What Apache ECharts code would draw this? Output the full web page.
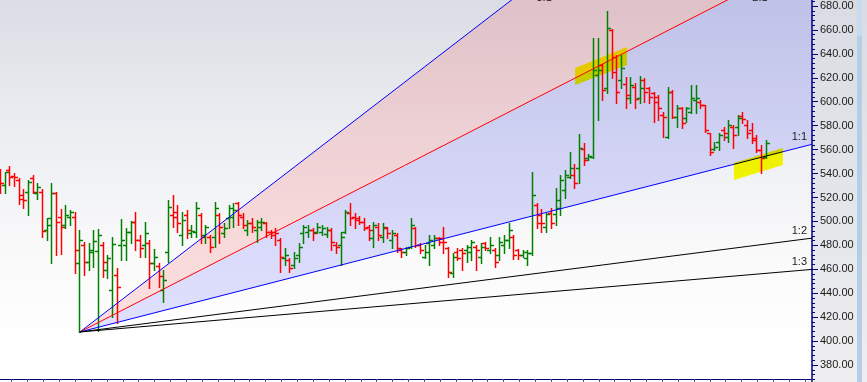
<!DOCTYPE html>
<html><head><meta charset="utf-8">
<script src="https://cdn.jsdelivr.net/npm/echarts@6/dist/echarts.min.js"></script>
<style>html,body{margin:0;padding:0;background:#fff;}#c{width:867px;height:382px;}</style>
</head><body><div id="c"></div>
<script>
const opens = [541.3,530.4,543.0,537.9,534.6,522.1,524.6,536.3,523.7,524.6,
492.8,502.8,523.7,503.7,497.0,503.7,503.7,465.2,480.3,466.1,
476.1,475.3,480.3,459.4,442.7,455.2,480.3,480.3,491.1,499.5,
484.5,480.3,481.9,465.2,462.7,442.7,474.4,505.4,507.9,488.6,
505.4,490.3,491.1,505.4,488.6,487.0,487.0,505.4,490.3,502.8,
503.7,515.4,503.7,492.8,498.7,492.8,495.3,498.7,491.1,491.1,
484.5,469.4,467.7,463.6,471.9,490.3,491.1,492.8,491.1,491.1,
489.5,492.8,480.3,480.3,491.1,507.0,503.7,502.8,499.5,495.3,
486.1,495.3,487.0,494.5,484.5,488.6,476.1,474.4,478.6,494.5,
480.3,470.3,481.9,480.3,486.1,486.1,477.8,456.9,474.4,476.1,
476.1,474.4,478.6,470.3,481.9,476.1,476.1,471.9,480.3,484.5,
487.0,476.1,471.9,469.4,473.6,513.7,505.4,495.3,507.0,506.2,
511.2,526.2,537.1,538.8,544.6,560.5,553.0,553.8,622.3,630.7,
611.5,659.9,637.4,618.2,614.8,603.1,612.3,603.1,618.2,611.5,
607.3,603.9,588.9,570.5,608.1,587.2,594.8,586.4,591.4,601.4,
599.8,597.3,573.9,560.5,566.3,576.4,570.5,578.9,578.9,588.1,
580.5,576.4,569.7,559.7,553.8];
const highs = [543.8,541.3,546.3,540.4,536.3,527.1,534.6,538.8,532.1,527.1,
502.8,532.1,524.6,510.4,513.7,509.5,507.9,492.8,482.8,481.9,
492.8,493.6,482.8,471.9,487.0,461.1,502.0,494.5,500.3,507.9,
488.6,499.5,484.5,476.9,465.2,459.4,517.9,522.1,513.7,507.9,
509.5,497.0,516.2,507.0,497.0,488.6,516.2,507.0,498.7,513.7,
515.4,516.2,507.0,501.2,502.8,501.2,502.8,499.5,492.8,494.5,
486.1,477.8,469.4,474.4,481.9,497.0,497.0,494.5,498.7,497.0,
495.3,494.5,482.8,491.1,509.5,515.4,507.0,504.5,502.8,497.0,
499.5,498.7,498.7,495.3,492.8,490.3,477.8,478.6,502.8,495.3,
481.9,480.3,488.6,488.6,487.0,495.3,478.6,473.6,477.8,477.8,
480.3,484.5,480.3,481.9,482.8,487.0,477.8,487.0,488.6,498.7,
488.6,476.9,476.1,476.1,541.3,515.4,510.4,507.0,511.2,527.9,
538.8,543.0,558.0,548.0,573.0,565.5,556.3,653.2,653.2,631.5,
675.8,660.8,639.0,639.0,620.7,620.7,615.6,621.5,619.8,612.3,
608.1,605.6,591.4,612.3,609.8,597.3,595.6,595.6,614.0,614.0,
601.4,597.3,573.9,566.3,573.9,578.9,584.7,580.5,588.9,591.4,
584.7,582.2,572.2,563.8,568.0];
const lows = [523.7,523.7,530.4,529.6,514.5,511.2,505.4,523.7,518.7,487.0,
484.5,465.2,471.9,472.8,494.5,497.0,456.9,407.6,455.2,459.4,
461.9,408.4,453.5,452.7,420.1,415.1,467.7,467.7,481.9,476.1,
470.3,470.3,444.4,459.4,445.2,432.7,466.1,495.3,491.1,480.3,
486.1,487.0,487.0,481.9,481.9,474.4,478.6,481.9,487.0,494.5,
495.3,497.0,494.5,488.6,491.1,482.8,492.8,487.0,486.1,480.3,
457.7,463.6,457.7,461.1,466.1,481.9,487.0,484.5,490.3,488.6,
487.0,476.1,473.6,463.6,490.3,497.0,494.5,497.8,492.8,484.5,
478.6,484.5,482.8,486.1,477.8,474.4,470.3,471.9,477.8,478.6,
473.6,469.4,463.6,477.8,480.3,473.6,453.5,453.5,467.7,459.4,
466.1,467.7,459.4,465.2,476.1,473.6,461.9,467.7,473.6,477.8,
468.6,468.6,470.3,463.6,471.9,494.5,491.1,491.1,494.5,497.0,
505.4,519.5,536.3,527.9,532.1,547.1,551.3,553.0,584.7,601.4,
607.3,619.8,598.9,611.5,594.8,598.9,594.8,598.9,599.8,598.9,
583.1,584.7,570.5,569.7,586.4,578.9,578.0,583.1,590.6,590.6,
594.8,574.7,555.5,559.7,559.7,568.0,566.3,561.3,572.2,582.2,
569.7,565.5,558.0,540.4,553.0];
const closes = [532.1,541.3,537.1,537.1,518.7,517.9,532.9,524.6,528.8,492.0,
497.0,523.7,499.5,495.3,505.4,507.9,476.1,484.5,466.1,474.4,
483.6,488.6,466.1,469.4,481.1,445.2,484.5,491.1,499.5,484.5,
477.8,490.3,465.2,470.3,454.4,451.0,512.0,503.7,498.7,501.2,
492.8,492.0,511.2,487.0,495.3,478.6,511.2,495.3,494.5,511.2,
509.5,505.4,497.0,498.7,495.3,499.5,499.5,491.1,488.6,490.3,
470.3,471.9,461.1,469.4,478.6,495.3,492.8,490.3,495.3,494.5,
492.8,482.8,478.6,487.0,507.9,502.8,501.2,499.5,494.5,492.8,
497.0,488.6,495.3,490.3,490.3,477.8,474.4,477.8,497.0,480.3,
476.1,474.4,484.5,486.1,482.8,482.8,457.7,470.3,469.4,473.6,
478.6,482.8,476.1,478.6,477.8,480.3,466.1,482.8,484.5,492.8,
471.9,471.9,474.4,473.6,522.1,498.7,498.7,506.2,498.7,517.9,
534.6,538.8,544.6,532.1,561.3,551.3,554.7,626.5,626.5,609.8,
661.6,624.8,608.1,628.2,605.6,614.0,602.3,611.5,608.1,603.9,
599.8,594.8,587.2,608.1,587.2,594.8,582.2,594.8,603.1,603.1,
597.3,576.4,558.0,562.2,572.2,573.9,580.5,572.2,586.4,585.6,
573.9,568.0,559.7,553.0,565.5];

// Gann fan: origin bar index, origin price, 1x1 unit (price per bar)
const gannOriginIndex = 17;
const gannOriginPrice = 407.6;
const gannUnit = 1.0;
const gannRatios = [3, 2, 1, 1/2, 1/3];
const gannNames = ['3:1', '2:1', '1:1', '1:2', '1:3'];

// highlighter marks (bar index, price)
const highlightA = [[123.1, 628.2], [134.2, 645.7], [134.2, 630.7], [123.1, 614.0]];
const highlightB = [[157.1, 548.8], [167.6, 561.3], [167.6, 547.1], [157.1, 534.6]];

const X_MIN = -1, X_MAX = 173.84;
const Y_MIN = 360, Y_MAX = 700, Y_VIS_TOP = 685;
const GRID_LEFT = -4.17, GRID_RIGHT = 55;
const FONT = '11px "Liberation Sans", Arial, sans-serif';

const fanColors = ['#0000ff', '#ff0000', '#0000ff', '#000000', '#000000'];
function fanPrice(r, x) { return gannOriginPrice + r * gannUnit * (x - gannOriginIndex); }

const bars = opens.map((o, i) => [i, o, highs[i], lows[i], closes[i]]);

const chart = echarts.init(document.getElementById('c'), null, {renderer: 'canvas'});

const series = [];
// fills
series.push({
  type: 'custom', xAxisIndex: 0, yAxisIndex: 0, z: 1, silent: true,
  data: [[0, 1], [1, 2]],
  renderItem: function (params, api) {
    const a = gannRatios[api.value(0)], b = gannRatios[api.value(1)];
    const o = api.coord([gannOriginIndex, gannOriginPrice]);
    const pa = api.coord([X_MAX, fanPrice(a, X_MAX)]);
    const pb = api.coord([X_MAX, fanPrice(b, X_MAX)]);
    const fill = params.dataIndex === 0 ? 'rgba(255,0,0,0.12)' : 'rgba(0,0,255,0.12)';
    return {type: 'polygon', shape: {points: [o, pa, pb]}, style: {fill: fill}};
  }
});
// OHLC bars
series.push({
  type: 'custom', xAxisIndex: 0, yAxisIndex: 0, z: 3, silent: true,
  data: bars,
  encode: {x: 0, y: [1, 2, 3, 4]},
  renderItem: function (params, api) {
    const i = api.value(0), o = api.value(1), h = api.value(2), l = api.value(3), c = api.value(4);
    const ph = api.coord([i, h]), pl = api.coord([i, l]);
    const po = api.coord([i, o]), pc = api.coord([i, c]);
    const x = Math.floor(ph[0]) + 0.5;
    const yo = Math.round(po[1]) + 0.5, yc = Math.round(pc[1]) + 0.5;
    const col = c >= o ? '#008000' : '#ff0000';
    const st = {stroke: col, lineWidth: 1.5};
    return {type: 'group', children: [
      {type: 'line', shape: {x1: x, y1: Math.round(ph[1]), x2: x, y2: Math.round(pl[1]) + 1}, style: st},
      {type: 'line', shape: {x1: x - 3.5, y1: yo, x2: x, y2: yo}, style: st},
      {type: 'line', shape: {x1: x, y1: yc, x2: x + 3.5, y2: yc}, style: st}
    ]};
  }
});
// fan lines
gannRatios.forEach((r, k) => {
  series.push({
    type: 'line', xAxisIndex: 0, yAxisIndex: 0, z: 4, silent: true,
    showSymbol: false, symbol: 'none', clip: true,
    lineStyle: {color: fanColors[k], width: 1},
    data: [[gannOriginIndex, gannOriginPrice], [X_MAX, fanPrice(r, X_MAX)]]
  });
});
// fan labels
series.push({
  type: 'custom', xAxisIndex: 0, yAxisIndex: 0, z: 5, silent: true,
  data: gannRatios.map((r, k) => [k]),
  renderItem: function (params, api) {
    const k = api.value(0), r = gannRatios[k];
    const pEnd = fanPrice(r, X_MAX);
    if (pEnd <= Y_VIS_TOP) {
      const p = api.coord([X_MAX, pEnd]);
      return {type: 'text', style: {text: gannNames[k], x: p[0] - 5, y: p[1] - 2,
        fill: '#1a1a1a', font: FONT, align: 'right', verticalAlign: 'bottom'}};
    }
    const xe = gannOriginIndex + (Y_VIS_TOP - gannOriginPrice) / (r * gannUnit);
    const p = api.coord([xe, Y_VIS_TOP]);
    return {type: 'text', style: {text: gannNames[k], x: p[0] + 25, y: p[1] + 3,
      fill: '#1a1a1a', font: FONT, align: 'left', verticalAlign: 'bottom'}};
  }
});

const gridCommon = {containLabel: false, outerBoundsMode: 'none'};
const option = {
  animation: false,
  backgroundColor: 'transparent',
  graphic: [
    {id: 'bgPlot', type: 'rect', z: -10, silent: true, shape: {x: 0, y: 0, width: 812, height: 382},
      style: {fill: new echarts.graphic.LinearGradient(0, 0, 0, 1, [
        {offset: 0, color: '#dadde4'}, {offset: 0.35, color: '#eceef2'},
        {offset: 0.65, color: '#f9f9fa'}, {offset: 0.85, color: '#fefefe'}, {offset: 1, color: '#ffffff'}])}},
    {id: 'bgPanel', type: 'rect', z: -10, silent: true, shape: {x: 812, y: 0, width: 55, height: 382},
      style: {fill: new echarts.graphic.LinearGradient(0, 0, 0, 1, [
        {offset: 0, color: '#d9dce3'}, {offset: 1, color: '#eeeef0'}])}},
    {id: 'scroll', type: 'rect', z: -9, silent: true, shape: {x: 857, y: 0, width: 5, height: 382},
      style: {fill: '#b5cee8'}},
    {id: 'scrollTop', type: 'rect', z: -9, silent: true, shape: {x: 857, y: 0, width: 5, height: 36},
      style: {fill: '#c9dcef'}}
  ],
  grid: [
    Object.assign({left: GRID_LEFT, right: GRID_RIGHT, top: -17.93, bottom: -6.94}, gridCommon),
    Object.assign({left: GRID_LEFT, right: GRID_RIGHT, top: 0, bottom: 3}, gridCommon)
  ],
  xAxis: [
    {type: 'value', gridIndex: 0, min: X_MIN, max: X_MAX, show: false},
    {type: 'value', gridIndex: 1, min: 0, max: 51.44, interval: 1, position: 'bottom',
      axisLine: {show: true, onZero: false, lineStyle: {color: '#000080', width: 1}},
      axisTick: {show: true, length: 3, lineStyle: {color: '#555'}},
      axisLabel: {show: false}, splitLine: {show: false}}
  ],
  yAxis: [
    {type: 'value', gridIndex: 0, position: 'right', min: Y_MIN, max: Y_MAX, interval: 20,
      axisLine: {show: true, onZero: false, lineStyle: {color: '#000080', width: 1.5}},
      axisTick: {show: true, length: 6, lineStyle: {color: '#000080'}},
      minorTick: {show: true, splitNumber: 5, length: 3, lineStyle: {color: '#000080'}},
      splitLine: {show: false},
      axisLabel: {show: true, margin: 8, color: '#1a1a1a', fontSize: 11,
        fontFamily: '"Liberation Sans", Arial, sans-serif',
        formatter: v => v.toFixed(2)}},
    {type: 'value', gridIndex: 1, min: 0, max: 1, show: false}
  ],
  series: series
};
chart.setOption(option);

// highlighter marks: multiply-blended yellow polygons placed through the axes
function hlPoly(poly) {
  return poly.map(p => chart.convertToPixel({xAxisIndex: 0, yAxisIndex: 0}, p));
}
chart.setOption({
  graphic: [
    {id: 'hlA', type: 'polygon', z: 100, silent: true, shape: {points: hlPoly(highlightA)},
      style: {fill: '#ffff00', blend: 'multiply'}},
    {id: 'hlB', type: 'polygon', z: 100, silent: true, shape: {points: hlPoly(highlightB)},
      style: {fill: '#ffff00', blend: 'multiply'}}
  ]
});
</script>
</body></html>
